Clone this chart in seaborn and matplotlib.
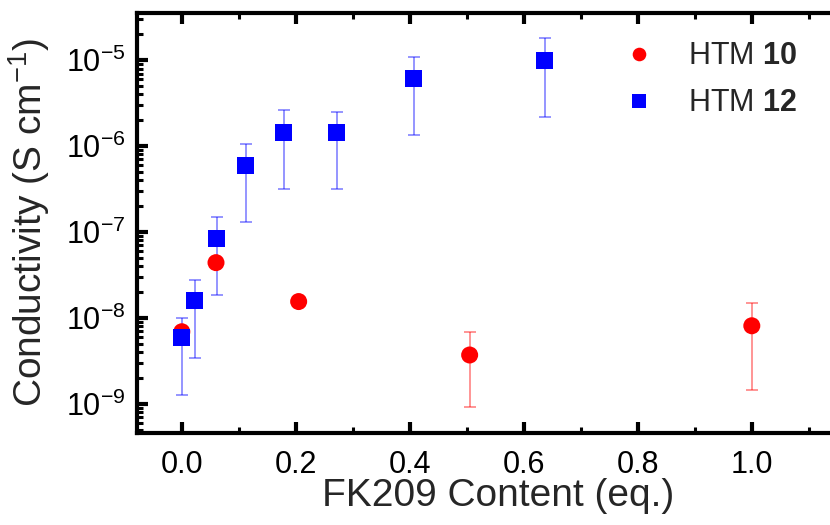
import numpy as np
import pandas as pd
import matplotlib
matplotlib.use("Agg")
import matplotlib.pyplot as plt
from matplotlib.ticker import MultipleLocator, LogLocator, NullFormatter, FormatStrFormatter
import seaborn as sns

# FK209 dopant content (eq.) and measured conductivity (S/cm)
htm10_x = [0.0, 0.06, 0.205, 0.505, 1.0]
htm10_y = [6.9e-9, 4.4e-8, 1.55e-8, 3.7e-9, 8.1e-9]
htm10_hi = [6.9e-9, 4.4e-8, 1.55e-8, 6.8e-9, 1.48e-8]
htm10_lo = [6.9e-9, 4.4e-8, 1.55e-8, 9.3e-10, 1.45e-9]

htm12_x = [0.0, 0.023, 0.061, 0.112, 0.179, 0.272, 0.407, 0.637]
htm12_y = [5.9e-9, 1.58e-8, 8.5e-8, 6.0e-7, 1.45e-6, 1.45e-6, 6.2e-6, 1.0e-5]
htm12_hi = [1.0e-8, 2.8e-8, 1.5e-7, 1.07e-6, 2.6e-6, 2.5e-6, 1.08e-5, 1.8e-5]
htm12_lo = [1.25e-9, 3.4e-9, 1.85e-8, 1.3e-7, 3.2e-7, 3.2e-7, 1.33e-6, 2.2e-6]

series_labels = ["HTM $\\mathbf{10}$", "HTM $\\mathbf{12}$"]

sns.set_theme(style="ticks")
plt.rcParams["font.family"] = ["Liberation Sans", "DejaVu Sans"]
plt.rcParams["mathtext.fontset"] = "custom"
plt.rcParams["mathtext.rm"] = "Liberation Sans"
plt.rcParams["mathtext.bf"] = "Liberation Sans:bold"
plt.rcParams["mathtext.it"] = "Liberation Sans:italic"

df = pd.concat([
    pd.DataFrame({"x": htm10_x, "y": htm10_y, "series": series_labels[0]}),
    pd.DataFrame({"x": htm12_x, "y": htm12_y, "series": series_labels[1]}),
], ignore_index=True)

fig = plt.figure(figsize=(8.3, 5.25), dpi=100)
W, H = 830, 525
x_lo, x_hi = -0.0786, 1.19
px_per_unit = 570
ax_w = (x_hi - x_lo) * px_per_unit
ax = fig.add_axes([137 / W, (H - 433) / H, ax_w / W, (433 - 13) / H])

# error bars drawn underneath the markers
for xs, ys, hi, lo, col in [
    (htm10_x, htm10_y, htm10_hi, htm10_lo, "#ff0000"),
    (htm12_x, htm12_y, htm12_hi, htm12_lo, "#0000ff"),
]:
    ys_a = np.array(ys)
    yerr = np.vstack([ys_a - np.array(lo), np.array(hi) - ys_a])
    ax.errorbar(xs, ys, yerr=yerr, fmt="none", ecolor=col, alpha=0.45,
                elinewidth=1.3, capsize=4, capthick=1.3, zorder=2)

sns.scatterplot(data=df, x="x", y="y", hue="series", style="series",
                palette={series_labels[0]: "#ff0000", series_labels[1]: "#0000ff"},
                markers={series_labels[0]: "o", series_labels[1]: "s"},
                s=150, edgecolor="none", linewidth=0, ax=ax, zorder=3)

ax.set_yscale("log")
ax.set_xlim(x_lo, x_hi)
ax.set_ylim(10 ** -9.34, 10 ** -4.45)
ax.xaxis.set_major_locator(MultipleLocator(0.2))
ax.xaxis.set_minor_locator(MultipleLocator(0.1))
ax.xaxis.set_major_formatter(FormatStrFormatter("%.1f"))
ax.yaxis.set_major_locator(LogLocator(base=10, numticks=20))
ax.yaxis.set_minor_locator(LogLocator(base=10, subs=np.arange(2, 10), numticks=20))
ax.yaxis.set_minor_formatter(NullFormatter())

for s in ax.spines.values():
    s.set_linewidth(3.0)
    s.set_color("black")
ax.tick_params(which="both", direction="in", top=True, right=True, colors="black",
               labelsize=22)
ax.tick_params(axis="x", pad=12)
ax.tick_params(axis="y", pad=8)
ax.tick_params(which="major", length=8, width=3.0)
ax.tick_params(which="minor", length=4.5, width=2.2)

ax.set_xlabel("FK209 Content (eq.)", fontsize=28, labelpad=-1)
ax.set_ylabel("Conductivity (S cm$^{-1}$)", fontsize=28, labelpad=10)

handles, labels = ax.get_legend_handles_labels()
ax.legend(handles, labels, loc="upper left", bbox_to_anchor=(596 / W, 1 - 14 / H),
          bbox_transform=fig.transFigure, frameon=False, fontsize=22,
          handlelength=1.0, handletextpad=1.12, labelspacing=0.55,
          markerscale=0.8, borderpad=0.4)

fig.savefig("out.png", dpi=100)
